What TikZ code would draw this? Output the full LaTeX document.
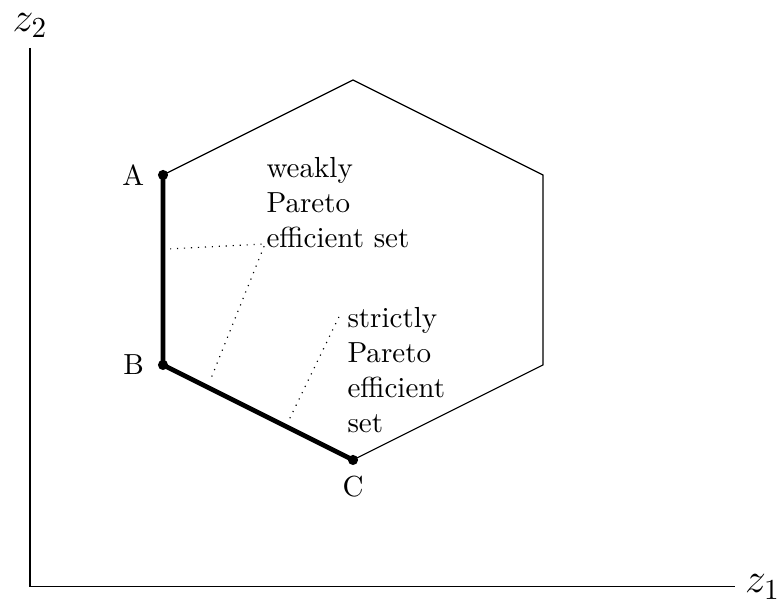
\documentclass[tikz,border=0pt]{standalone}
\usetikzlibrary{positioning}
\begin{document}
\begin{tikzpicture}[x=2.3cm, y=2.3cm,
  sommet/.style={circle, fill, inner sep=0pt, minimum size=3.5pt},
  pareto/.style={line width=1.6pt},
  renvoi/.style={dotted},
  legende/.style={align=left, inner sep=0pt, anchor=north west}]
  \useasboundingbox (-0.158,-0.084) rectangle (3.958,3.089);

  % Axes
  \coordinate (O) at (0,0);
  \coordinate (X) at (3.71,0);
  \coordinate (Y) at (0,2.837);
  \draw (Y) -- (O) -- (X);
  \node[right=0pt of X] (z1) {\Large $z_1$};
  \node[above=0pt of Y] (z2) {\Large $z_2$};

  % Hexagone
  \coordinate (A) at (0.7,2.168);
  \coordinate (H) at (1.7,2.668);
  \coordinate (D) at (2.7,2.168);
  \coordinate (E) at (2.7,1.168);
  \coordinate (C) at (1.7,0.668);
  \coordinate (B) at (0.7,1.168);
  \draw (A) -- (H) -- (D) -- (E) -- (C);
  \draw[pareto] (A) -- (B) -- (C);
  \foreach \s in {A,B,C}
    \node[sommet] (p\s) at (\s) {};
  \node[left=3pt of A] (lA) {A};
  \node[left=3pt of B] (lB) {B};
  \node[below=2pt of C] (lC) {C};

  % Legendes
  \node[legende] (faible) at (1.242,2.263) {weakly\\Pareto\\efficient set};
  \node[legende] (strict) at (1.668,1.474) {strictly\\Pareto\\efficient\\set};
  \coordinate (f1) at (0.737,1.779);
  \coordinate (f2) at (1.237,1.805);
  \coordinate (f3) at (0.947,1.084);
  \coordinate (s1) at (1.626,1.421);
  \coordinate (s2) at (1.358,0.868);
  \draw[renvoi] (f1) -- (f2) -- (f3);
  \draw[renvoi] (s1) -- (s2);
\end{tikzpicture}
\end{document}
